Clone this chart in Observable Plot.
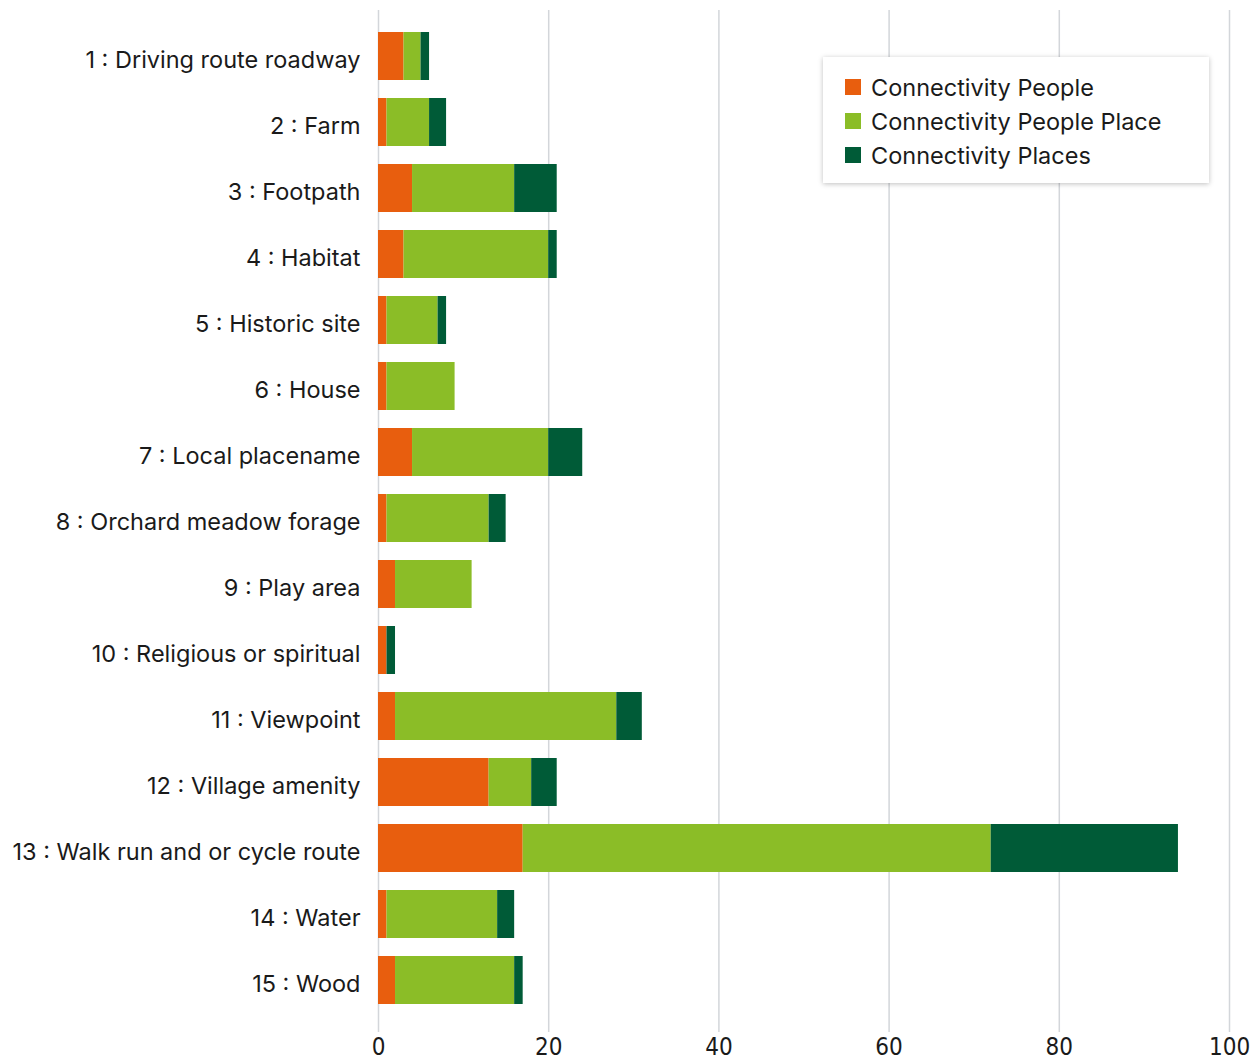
<!DOCTYPE html>
<html>
<head>
<meta charset="utf-8">
<script src="https://cdn.jsdelivr.net/npm/d3@7"></script>
<script src="https://cdn.jsdelivr.net/npm/@observablehq/plot@0.6"></script>
<style>
  html, body { margin: 0; padding: 0; background: #fff; }
  #wrap { position: relative; width: 1258px; height: 1061px; }
  #legend {
    position: absolute; left: 823px; top: 57px; width: 386px; height: 126px;
    background: #fff; box-shadow: 0 1px 5px rgba(0,0,0,0.25);
    font-family: Inter, "Noto Sans", sans-serif; font-size: 23.5px; color: #1a1a1a;
    box-sizing: border-box; padding: 13px 0 0 22px;
  }
  .item { display: flex; align-items: center; height: 34px; }
  .sw { width: 16px; height: 16px; margin-right: 10px; }
</style>
</head>
<body>
<div id="wrap"><div id="legend"></div></div>
<script>
const categories = [
  "1 : Driving route roadway", "2 : Farm", "3 : Footpath", "4 : Habitat",
  "5 : Historic site", "6 : House", "7 : Local placename", "8 : Orchard meadow forage",
  "9 : Play area", "10 : Religious or spiritual", "11 : Viewpoint", "12 : Village amenity",
  "13 : Walk run and or cycle route", "14 : Water", "15 : Wood"
];
const seriesNames = ["Connectivity People", "Connectivity People Place", "Connectivity Places"];
const seriesColors = ["#E85E0E", "#8BBD27", "#005B37"];
const people      = [3, 1, 4, 3, 1, 1, 4, 1, 2, 1, 2, 13, 17, 1, 2];
const peoplePlace = [2, 5, 12, 17, 6, 8, 16, 12, 9, 0, 26, 5, 55, 13, 14];
const places      = [1, 2, 5, 1, 1, 0, 4, 2, 0, 1, 3, 3, 22, 2, 1];
const xTicks = [0, 20, 40, 60, 80, 100];

const seriesValues = [people, peoplePlace, places];
const data = [];
seriesNames.forEach((s, si) => {
  categories.forEach((c, ci) => {
    data.push({category: c, series: s, value: seriesValues[si][ci]});
  });
});

const chart = Plot.plot({
  width: 1258,
  height: 1061,
  marginLeft: 378,
  marginRight: 29,
  marginTop: 12,
  marginBottom: 36,
  style: {fontFamily: "Inter, 'Noto Sans', sans-serif", fontSize: "22px", color: "#1a1a1a", background: "#fff", overflow: "visible"},
  x: {domain: [0, 100], ticks: xTicks, label: null},
  y: {domain: categories, padding: 0.27, label: null},
  color: {domain: seriesNames, range: seriesColors},
  marks: [
    Plot.ruleX(xTicks, {stroke: "#d3d6da", strokeWidth: 1.5, insetTop: -2, insetBottom: -7}),
    Plot.barX(data, Plot.stackX({y: "category", x: "value", fill: "series", order: seriesNames})),
    Plot.axisX({ticks: xTicks, tickSize: 0, tickPadding: 12, fontSize: 24, fontFamily: "'Liberation Sans Narrow', 'DejaVu Sans Condensed', sans-serif", label: null}),
    Plot.axisY({tickSize: 0, tickPadding: 18, fontSize: 23.5, dy: 4, label: null})
  ]
});
document.getElementById("wrap").prepend(chart);

const legend = document.getElementById("legend");
seriesNames.forEach((s, i) => {
  const it = document.createElement("div");
  it.className = "item";
  it.innerHTML = `<div class="sw" style="background:${seriesColors[i]}"></div><span>${s}</span>`;
  legend.appendChild(it);
});
</script>
</body>
</html>
